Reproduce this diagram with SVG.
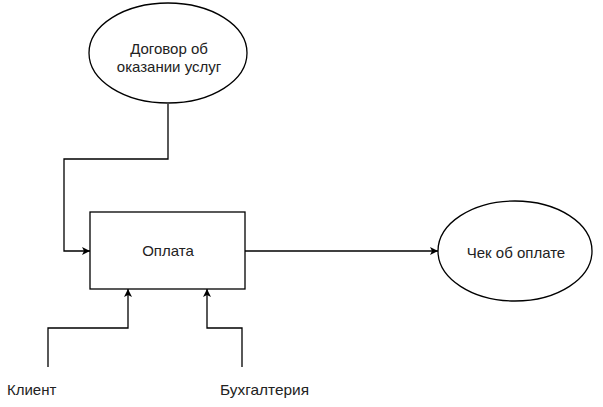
<svg xmlns="http://www.w3.org/2000/svg" width="603" height="407" viewBox="0 0 603 407">
<style>
.shape{fill:#fff;stroke:#000;stroke-width:1.3}
.conn{fill:none;stroke:#000;stroke-width:1.3}
text{font-family:"Liberation Sans",Arial,sans-serif;font-size:15px;fill:#222}
</style>
<defs>
<marker id="arr" viewBox="0 0 10 10" refX="10" refY="5" markerWidth="8" markerHeight="8" markerUnits="userSpaceOnUse" orient="auto">
<path d="M0,0 L10,5 L0,10 L2.5,5 Z" fill="#000"/>
</marker>
</defs>
<g id="connectors">
<path class="conn" d="M168,104 V159 H64 V251 H90" marker-end="url(#arr)"/>
<path class="conn" d="M245,251 H438" marker-end="url(#arr)"/>
<path class="conn" d="M48,367 V328 H128 V289" marker-end="url(#arr)"/>
<path class="conn" d="M242,367 V328 H207 V289" marker-end="url(#arr)"/>
</g>
<g id="contract">
<ellipse class="shape" cx="168" cy="53" rx="79" ry="50"/>
<text x="169" y="54" text-anchor="middle">Договор об</text>
<text x="169" y="72" text-anchor="middle">оказании услуг</text>
</g>
<g id="payment">
<rect class="shape" x="90" y="212" width="155" height="77"/>
<text x="168" y="256" text-anchor="middle">Оплата</text>
</g>
<g id="receipt">
<ellipse class="shape" cx="515" cy="251" rx="77" ry="50"/>
<text x="516" y="258" text-anchor="middle">Чек об оплате</text>
</g>
<g id="client">
<text x="7" y="395">Клиент</text>
</g>
<g id="accounting">
<text x="220" y="395" textLength="89" lengthAdjust="spacingAndGlyphs">Бухгалтерия</text>
</g>
</svg>
